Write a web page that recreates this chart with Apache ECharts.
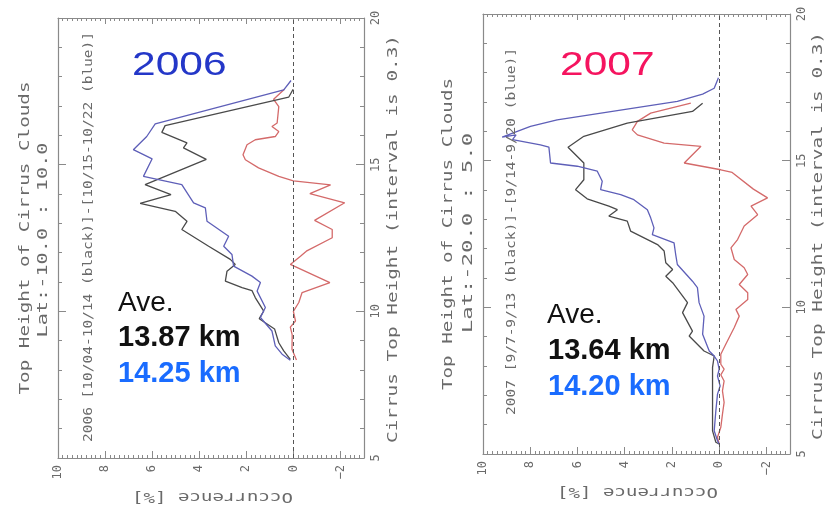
<!DOCTYPE html>
<html><head><meta charset="utf-8">
<script src="https://cdn.jsdelivr.net/npm/echarts@6/dist/echarts.min.js"></script>
<style>html,body{margin:0;padding:0;background:#fff}#c{width:836px;height:508px}</style>
</head><body><div id="c"></div>
<script>
// ---------- tick labels ----------
const occTicks = [10, 8, 6, 4, 2, 0, -2];
const heightTicks = [5, 10, 15, 20];

// ---------- 2006 panel (Lat -10 : 10) ----------
const black2006Occ = [0.01, 0.20, 5.45, 5.59, 4.52, 4.67, 3.70, 6.30, 5.20, 6.51, 5.02, 4.52, 4.74, 3.60, 2.68, 2.47, 2.82, 2.89, 2.18, 1.76, 1.62, 1.26, 1.45, 0.80, 0.62, 0.41, 0.13];
const black2006Hgt = [17.57, 17.30, 16.33, 16.10, 15.74, 15.57, 15.18, 14.32, 13.98, 13.68, 13.41, 13.07, 12.79, 12.22, 11.77, 11.60, 11.37, 11.03, 10.81, 10.71, 10.47, 10.01, 9.75, 9.40, 8.93, 8.65, 8.36];
const blue2006Occ = [0.10, 0.41, 5.87, 6.23, 6.80, 6.00, 6.37, 5.73, 4.74, 4.24, 3.74, 3.67, 2.75, 2.96, 2.61, 2.54, 1.76, 1.40, 1.54, 1.19, 1.40, 0.91, 0.77, 0.48, 0.13];
const blue2006Hgt = [17.87, 17.55, 16.39, 15.96, 15.51, 15.20, 14.60, 14.49, 14.32, 13.70, 13.53, 13.07, 12.56, 12.22, 11.94, 11.54, 11.20, 10.98, 10.69, 10.13, 9.79, 9.33, 8.82, 8.54, 8.33];
const red2006Occ = [0.38, 0.84, 0.62, 0.69, 0.91, 0.62, 0.77, 1.62, 1.97, 2.14, 2.04, 1.48, 0.62, 0.00, -1.58, -0.70, -2.18, -0.90, -1.65, -1.65, -0.55, -0.30, 0.13, -1.55, -0.37, -0.23, 0.00, -0.09, 0.13, 0.05, 0.06, -0.13];
const red2006Hgt = [17.57, 17.23, 16.98, 16.42, 16.30, 16.13, 15.96, 15.85, 15.68, 15.34, 15.17, 14.89, 14.60, 14.45, 14.31, 14.01, 13.70, 13.10, 12.79, 12.51, 12.05, 11.88, 11.60, 10.98, 10.64, 10.30, 10.00, 9.67, 9.46, 9.20, 8.71, 8.34];

// ---------- 2007 panel (Lat -20 : 5) ----------
const black2007Occ = [0.70, 1.13, 3.89, 5.73, 6.40, 5.73, 5.73, 6.08, 5.59, 4.67, 4.31, 4.67, 3.89, 3.75, 2.61, 2.33, 2.26, 1.97, 2.26, 1.97, 1.34, 1.55, 1.13, 1.27, 0.64, 0.21, 0.28, 0.28, 0.28, 0.28, 0.14, 0.00];
const black2007Hgt = [16.96, 16.68, 16.28, 15.83, 15.46, 14.92, 14.35, 14.01, 13.70, 13.45, 13.33, 13.11, 12.94, 12.60, 12.14, 11.92, 11.52, 11.29, 11.06, 10.84, 10.16, 9.82, 9.19, 9.02, 8.51, 8.34, 7.95, 7.38, 6.36, 5.79, 5.40, 5.34];
const blue2007Occ = [0.03, 0.21, 0.70, 1.77, 6.86, 7.99, 9.19, 8.60, 8.75, 7.57, 7.21, 7.14, 6.01, 5.16, 4.95, 5.02, 4.17, 3.61, 3.04, 2.90, 2.76, 2.83, 1.91, 1.84, 1.77, 1.13, 0.92, 0.85, 0.64, 0.70, 0.42, 0.21, 0.07, 0.00, 0.07, -0.04, 0.07, 0.14, 0.21, 0.07, 0.00];
const blue2007Hgt = [17.83, 17.47, 17.27, 17.02, 16.39, 16.17, 15.80, 15.88, 15.72, 15.54, 15.46, 14.92, 14.81, 14.64, 14.30, 14.01, 13.84, 13.67, 13.33, 13.05, 12.71, 12.48, 12.20, 11.80, 11.46, 10.89, 10.67, 10.16, 9.70, 9.08, 8.51, 8.34, 8.17, 7.89, 7.66, 7.32, 7.04, 6.47, 5.79, 5.45, 5.34];
const red2007Occ = [1.20, 2.90, 3.46, 3.68, 3.46, 2.33, 0.77, 1.48, -0.07, -0.55, -1.45, -2.05, -1.35, -1.63, -1.06, -0.78, -0.50, -0.64, -1.06, -1.21, -0.85, -1.21, -1.21, -0.71, -0.85, -0.64, -0.28, -0.07, -0.07, -0.21, -0.07, -0.21, -0.14, -0.21, -0.14, -0.07, 0.07, 0.00];
const red2007Hgt = [16.96, 16.62, 16.34, 16.05, 15.88, 15.60, 15.49, 14.92, 14.69, 14.60, 14.03, 13.73, 13.45, 13.16, 12.77, 12.31, 12.03, 11.63, 11.35, 11.12, 10.78, 10.50, 10.27, 9.93, 9.70, 9.31, 8.74, 8.40, 8.06, 7.89, 7.70, 7.49, 7.15, 6.76, 6.36, 5.91, 5.57, 5.34];

const pairs = (xs, ys) => xs.map((v, i) => [v, ys[i]]);

const minorOcc = [];
for (let k = 0; k <= 65; k++) minorOcc.push(Math.round((-3 + k * 0.2) * 10) / 10);

const AXIS_COL = '#8a8a8a';
const TXT_COL = '#6a6a6a';
const MONO = 'DejaVu Sans Mono';

const panels = [
  { left: 58, top: 18, width: 306, height: 440 },
  { left: 483, top: 14, width: 307, height: 440 }
];

const grid = [], xAxis = [], yAxis = [];
panels.forEach(p => { grid.push(Object.assign({}, p)); grid.push(Object.assign({}, p)); });

function fmtOcc(v) { return v < 0 ? '\u2212' + (-v) : String(v); }

panels.forEach((p, pi) => {
  const gMain = pi * 2, gOver = pi * 2 + 1;
  xAxis.push({ gridIndex: gMain, type: 'value', position: 'bottom', inverse: true, min: -3, max: 10,
    axisLine: { show: true, onZero: false, lineStyle: { color: AXIS_COL, width: 1.2 } },
    axisTick: { show: true, inside: true, length: 7, customValues: occTicks, lineStyle: { color: AXIS_COL } },
    axisLabel: { show: true, customValues: occTicks, rotate: 90, margin: 7, formatter: fmtOcc,
      fontFamily: MONO, fontSize: 12, color: TXT_COL },
    splitLine: { show: false } });
  xAxis.push({ gridIndex: gMain, type: 'value', position: 'top', inverse: true, min: -3, max: 10,
    axisLine: { show: true, onZero: false, lineStyle: { color: AXIS_COL, width: 1.2 } },
    axisTick: { show: true, inside: true, length: 6, customValues: occTicks, lineStyle: { color: AXIS_COL } },
    axisLabel: { show: false }, splitLine: { show: false } });
  ['bottom', 'top'].forEach(pos => xAxis.push({ gridIndex: gOver, type: 'value', position: pos, inverse: true, min: -3, max: 10,
    axisLine: { show: false, onZero: false },
    axisTick: { show: true, inside: true, length: 3, customValues: minorOcc, lineStyle: { color: AXIS_COL } },
    axisLabel: { show: false }, splitLine: { show: false } }));
  yAxis.push({ gridIndex: gMain, type: 'value', position: 'left', min: 5, max: 20, interval: 5,
    axisLine: { show: true, onZero: false, lineStyle: { color: AXIS_COL, width: 1.2 } },
    axisTick: { show: true, inside: true, length: 8, lineStyle: { color: AXIS_COL } },
    axisLabel: { show: false }, splitLine: { show: false } });
  yAxis.push({ gridIndex: gMain, type: 'value', position: 'right', min: 5, max: 20, interval: 5,
    axisLine: { show: true, onZero: false, lineStyle: { color: AXIS_COL, width: 1.2 } },
    axisTick: { show: true, inside: true, length: 8, lineStyle: { color: AXIS_COL } },
    axisLabel: { show: true, rotate: 90, margin: 6, fontFamily: MONO, fontSize: 12, color: TXT_COL },
    splitLine: { show: false } });
  ['left', 'right'].forEach(pos => yAxis.push({ gridIndex: gOver, type: 'value', position: pos, min: 5, max: 20, interval: 1,
    axisLine: { show: false, onZero: false },
    axisTick: { show: true, inside: true, length: 4, lineStyle: { color: AXIS_COL } },
    axisLabel: { show: false }, splitLine: { show: false } }));
});

function lineSeries(xi, yi, data, color, withZero) {
  const s = { type: 'line', xAxisIndex: xi, yAxisIndex: yi, data: data, symbol: 'none', showSymbol: false,
    lineStyle: { color: color, width: 1.3 }, itemStyle: { color: color }, animation: false, z: 3 };
  if (withZero) {
    s.markLine = { silent: true, symbol: 'none', label: { show: false }, animation: false,
      lineStyle: { type: [4, 3], color: '#555', width: 1 }, data: [{ xAxis: 0 }] };
  }
  return s;
}

const BLUE_L = '#5e5fb8', BLACK_L = '#4a4a4a', RED_L = '#d46a6a';
const series = [
  lineSeries(0, 0, pairs(red2006Occ, red2006Hgt), RED_L, true),
  lineSeries(0, 0, pairs(black2006Occ, black2006Hgt), BLACK_L, false),
  lineSeries(0, 0, pairs(blue2006Occ, blue2006Hgt), BLUE_L, false),
  lineSeries(4, 4, pairs(red2007Occ, red2007Hgt), RED_L, true),
  lineSeries(4, 4, pairs(black2007Occ, black2007Hgt), BLACK_L, false),
  lineSeries(4, 4, pairs(blue2007Occ, blue2007Hgt), BLUE_L, false)
];

function vtext(txt, x, y, size, span, rot) {
  const adv = size * 0.602 * txt.length;
  return { type: 'text', x: x, y: y, rotation: rot === undefined ? Math.PI / 2 : rot, scaleX: span / adv, z: 10,
    style: { text: txt, fontFamily: MONO, fontSize: size, fill: TXT_COL,
      align: 'center', verticalAlign: 'middle', textAlign: 'center', textVerticalAlign: 'middle' } };
}
function htext(txt, x, y, size, color, weight, sx) {
  return { type: 'text', x: x, y: y, scaleX: sx || 1, z: 10,
    style: { text: txt, fontFamily: 'Liberation Sans', fontSize: size, fontWeight: weight || 'normal', fill: color,
      align: 'left', verticalAlign: 'middle', textAlign: 'left', textVerticalAlign: 'middle' } };
}

const graphic = [
  vtext('Top Height of Cirrus Clouds', 25, 238, 14, 313),
  vtext('Lat:-10.0 : 10.0', 43, 240, 14, 195),
  vtext('2006 [10/04-10/14 (black)]-[10/15-10/22 (blue)]', 88.5, 237, 12, 410),
  vtext('Cirrus Top Height (interval is 0.3)', 393, 239, 14, 408),
  vtext('Occurrence [%]', 212.5, 496.5, 14, 161, Math.PI),
  htext('2006', 132, 66, 34, '#2437c8', 'normal', 1.25),
  htext('Ave.', 118, 303.5, 28, '#111111'),
  htext('13.87 km', 118, 338, 29, '#111111', 'bold'),
  htext('14.25 km', 118, 374, 29, '#1a6cff', 'bold'),
  vtext('Top Height of Cirrus Clouds', 448.3, 234, 14, 312),
  vtext('Lat:-20.0 : 5.0', 468.3, 233, 14, 200),
  vtext('2007 [9/7-9/13 (black)]-[9/14-9/20 (blue)]', 512, 231.5, 12, 367),
  vtext('Cirrus Top Height (interval is 0.3)', 818.3, 236, 14, 408),
  vtext('Occurrence [%]', 637.5, 491.7, 14, 161, Math.PI),
  htext('2007', 560, 66, 34, '#f5145f', 'normal', 1.25),
  htext('Ave.', 547, 315, 28, '#111111'),
  htext('13.64 km', 548, 351, 29, '#111111', 'bold'),
  htext('14.20 km', 548, 387, 29, '#1a6cff', 'bold')
];

const chart = echarts.init(document.getElementById('c'), null, { renderer: 'canvas' });
chart.setOption({ animation: false, backgroundColor: '#ffffff', grid, xAxis, yAxis, series, graphic });
</script>
</body></html>
